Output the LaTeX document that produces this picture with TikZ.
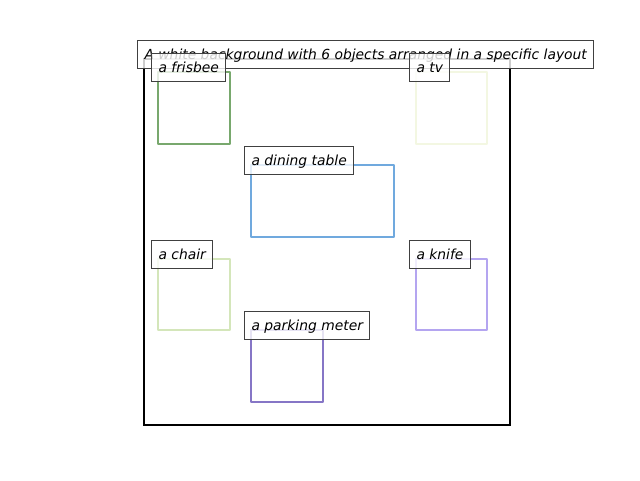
\documentclass[tikz,border=0pt]{standalone}
\usepackage{fontspec}
\setmainfont{DejaVu Sans}
\definecolor{cfris}{HTML}{78A86D}
\definecolor{ctv}{HTML}{F3F7E2}
\definecolor{ctable}{HTML}{70A9DE}
\definecolor{cchair}{HTML}{D4E6BA}
\definecolor{cknife}{HTML}{B4A5F0}
\definecolor{cmeter}{HTML}{8676C6}
\begin{document}
\begin{tikzpicture}[x=0.75pt,y=-0.75pt,
  objbox/.style={line width=1.9pt, line join=round},
  lbl/.style={anchor=base west, draw=black!75, fill=white, fill opacity=0.8, text opacity=1,
    line width=0.75pt, inner xsep=5pt, inner ysep=4.7pt, xshift=-5pt,
    font=\fontsize{10.4}{12}\selectfont\itshape, text height=0.93em, text depth=0.24em}]
\useasboundingbox (0,0) rectangle (640,480);
\draw[line width=1.8pt] (144,59) rectangle (510,425);
\draw[objbox, cfris] (158,72) rectangle (230,144);
\draw[objbox, ctv] (416,72) rectangle (487,144);
\draw[objbox, ctable] (251,165) rectangle (394,237);
\draw[objbox, cchair] (158,259) rectangle (230,330);
\draw[objbox, cknife] (416,259) rectangle (487,330);
\draw[objbox, cmeter] (251,330) rectangle (323,402);
\node[lbl] (title) at (144,59) {A white background with 6 objects arranged in a specific layout};
\node[lbl] (lfris) at (158,72) {a frisbee};
\node[lbl] (ltv) at (416,72) {a tv};
\node[lbl] (ltable) at (251,165) {a dining table};
\node[lbl] (lchair) at (158,259) {a chair};
\node[lbl] (lknife) at (416,259) {a knife};
\node[lbl] (lmeter) at (251,330) {a parking meter};
\end{tikzpicture}
\end{document}
